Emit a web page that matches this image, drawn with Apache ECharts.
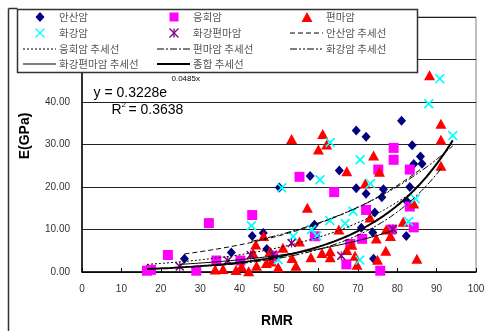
<!DOCTYPE html>
<html><head><meta charset="utf-8">
<script src="https://cdn.jsdelivr.net/npm/echarts@6/dist/echarts.min.js"></script>
<style>html,body{margin:0;padding:0;background:#fff}#c{width:489px;height:331px}</style>
</head><body><div id="c"></div>
<script>
// ---- data (RMR, E GPa) ----
const andesite = [[26.0,3.1],[37.9,4.6],[43.2,8.5],[46.0,9.2],[46.9,5.4],[50.1,19.9],[57.9,22.6],[59.0,11.1],[65.3,23.9],[69.6,19.7],[69.6,33.3],[70.9,10.4],[72.1,31.8],[72.1,18.4],[73.8,9.3],[74.0,3.1],[74.3,14.0],[76.1,17.6],[76.5,19.5],[81.1,35.6],[82.3,8.5],[82.5,16.6],[83.2,20.0],[83.8,29.8],[84.2,25.4],[85.9,27.2],[86.3,25.5]];
const tuff = [[16.5,0.3],[17.5,0.5],[21.8,4.0],[29.0,0.3],[32.2,11.5],[34.1,2.7],[40.2,2.7],[43.2,13.4],[48.5,3.7],[55.2,22.4],[59.1,8.4],[64.0,18.8],[67.1,1.8],[68.1,6.6],[71.1,7.8],[72.1,14.6],[75.2,24.1],[75.7,0.3],[78.6,10.0],[79.1,29.2],[79.1,26.4],[83.2,24.1],[83.2,15.4],[84.2,10.5]];
const gneiss = [[33.8,0.6],[35.8,0.7],[39.1,0.5],[40.5,1.3],[42.3,0.2],[43.4,4.5],[44.1,6.5],[44.3,1.5],[46.1,8.5],[46.8,2.1],[47.7,4.8],[48.1,2.5],[49.8,1.1],[51.0,5.7],[53.2,31.3],[53.3,3.3],[54.3,1.5],[55.2,7.2],[57.2,15.1],[58.1,3.5],[60.0,28.8],[60.9,4.5],[61.1,32.5],[62.1,30.0],[63.0,3.5],[63.0,4.9],[65.2,10.0],[67.2,23.7],[67.2,5.2],[68.5,6.4],[69.3,3.8],[69.8,1.7],[71.9,20.8],[73.1,12.8],[74.0,27.4],[74.7,7.9],[75.0,2.9],[75.5,23.6],[77.1,5.0],[77.2,10.0],[78.3,8.5],[81.5,11.8],[84.2,16.1],[85.0,3.1],[88.2,46.3],[91.1,34.9],[91.1,31.1],[91.1,25.0]];
const granite = [[43.0,10.9],[49.8,2.9],[50.7,19.8],[53.6,8.4],[58.3,10.0],[59.6,8.5],[60.4,21.7],[62.9,12.1],[63.0,30.5],[66.8,11.4],[68.8,14.3],[70.6,26.4],[70.5,2.8],[73.2,20.8],[82.9,11.9],[84.6,17.2],[88.0,39.6],[90.8,45.5],[94.1,32.1]];
const graniteGneiss = [[24.8,1.3],[37.0,2.7],[42.8,4.0],[48.4,4.1],[53.2,6.8],[65.8,3.8],[78.9,10.1]];

const seriesNames = ['안산암','응회암','편마암','화강암','화강편마암'];
const trendNames = ['안산암 추세선','응회암 추세선','편마암 추세선','화강암 추세선','화강편마암 추세선','종합 추세선'];
// exponential trend coefficients y = a*e^(b*x)
const trendA = [2.0, 1.0, 0.28, 2.19, 0.824, 0.3228];
const trendB = [0.029, 0.035, 0.049, 0.0277, 0.0313, 0.0485];
const xTicks = [0,10,20,30,40,50,60,70,80,90,100];
const yTicks = [0,10,20,30,40,50,60];
const eqText = ['y = 0.3228e','0.0485x','R','2',' = 0.3638'];

const groups = [andesite, tuff, gneiss, granite, graniteGneiss];
const allPts = groups.flat();
function range(d){let mn=Infinity,mx=-Infinity;d.forEach(p=>{mn=Math.min(mn,p[0]);mx=Math.max(mx,p[0]);});return [mn,mx];}
function trendPts(a,b,d){const [mn,mx]=range(d);const out=[];const n=80;for(let i=0;i<=n;i++){const x=mn+(mx-mn)*i/n;out.push([x,a*Math.exp(b*x)]);}return out;}

const X_PATH='path://M0,1.2 L1.2,0 L5,3.8 L8.8,0 L10,1.2 L6.2,5 L10,8.8 L8.8,10 L5,6.2 L1.2,10 L0,8.8 L3.8,5 Z';
const AST_PATH='path://M0,1.2 L1.2,0 L5,3.8 L8.8,0 L10,1.2 L6.2,5 L10,8.8 L8.8,10 L5,6.2 L1.2,10 L0,8.8 L3.8,5 Z M4.4,0 L5.6,0 L5.6,10 L4.4,10 Z';
const markerDefs = [
  {symbol:'diamond', size:[9,10], color:'#000080'},
  {symbol:'rect', size:10, color:'#FF00FF'},
  {symbol:'triangle', size:[11,10], color:'#FF0000'},
  {symbol:X_PATH, size:10, color:'#00FFFF'},
  {symbol:AST_PATH, size:9, color:'#800080'}
];
const lineDefs = [
  {type:[5,3], width:1},
  {type:[2,2], width:1},
  {type:[7,2,2,2], width:1},
  {type:[7,2,2,2,2,2], width:1},
  {type:'solid', width:1},
  {type:'solid', width:2}
];

const series = [];
groups.forEach((d,i)=>{
  series.push({name:seriesNames[i], type:'scatter', data:d, symbol:markerDefs[i].symbol, symbolSize:markerDefs[i].size,
    itemStyle:{color:markerDefs[i].color, opacity:1}, z:3});
});
trendNames.forEach((nm,i)=>{
  const d = i<5 ? groups[i] : allPts;
  series.push({name:nm, type:'line', data:trendPts(trendA[i],trendB[i],d), showSymbol:false, symbol:'none', smooth:false,
    lineStyle:{color:'#000', width:lineDefs[i].width, type:lineDefs[i].type}, z:4, silent:true});
});

// ---- legend drawn as graphic ----
const FONT = '10.5px "Noto Sans CJK KR", sans-serif';
const TC = '#555';
const g = [];
g.push({type:'rect', shape:{x:17.5,y:9.5,width:400,height:63}, style:{fill:'#fff', stroke:'#333', lineWidth:1.5}, z:100});
g.push({type:'line', shape:{x1:8.5,y1:8.5,x2:17.5,y2:8.5}, style:{stroke:'#333', lineWidth:1.5}, z:100});
g.push({type:'line', shape:{x1:8.5,y1:8.5,x2:8.5,y2:331}, style:{stroke:'#333', lineWidth:1.5}, z:100});
const colX = [40, 174, 307], txtX = [59, 193, 326], rowY = [17, 33, 49, 64];
const legendItems = [
  {k:'m',i:0,c:0,r:0},{k:'m',i:1,c:1,r:0},{k:'m',i:2,c:2,r:0},
  {k:'m',i:3,c:0,r:1},{k:'m',i:4,c:1,r:1},{k:'l',i:0,c:2,r:1},
  {k:'l',i:1,c:0,r:2},{k:'l',i:2,c:1,r:2},{k:'l',i:3,c:2,r:2},
  {k:'l',i:4,c:0,r:3},{k:'l',i:5,c:1,r:3}
];
legendItems.forEach(it=>{
  const cx = colX[it.c], cy = rowY[it.r];
  if(it.k==='m'){
    const col = markerDefs[it.i].color;
    if(it.i===0) g.push({type:'polygon', shape:{points:[[cx,cy-5],[cx+4.5,cy],[cx,cy+5],[cx-4.5,cy]]}, style:{fill:col}, z:101});
    if(it.i===1) g.push({type:'rect', shape:{x:cx-4.5,y:cy-4.5,width:9,height:9}, style:{fill:col}, z:101});
    if(it.i===2) g.push({type:'polygon', shape:{points:[[cx,cy-5],[cx+5.5,cy+5],[cx-5.5,cy+5]]}, style:{fill:col}, z:101});
    if(it.i===3||it.i===4){
      g.push({type:'line', shape:{x1:cx-4.5,y1:cy-4.5,x2:cx+4.5,y2:cy+4.5}, style:{stroke:col,lineWidth:1.3}, z:101});
      g.push({type:'line', shape:{x1:cx-4.5,y1:cy+4.5,x2:cx+4.5,y2:cy-4.5}, style:{stroke:col,lineWidth:1.3}, z:101});
      if(it.i===4) g.push({type:'line', shape:{x1:cx,y1:cy-4.5,x2:cx,y2:cy+4.5}, style:{stroke:col,lineWidth:1.3}, z:101});
    }
    g.push({type:'text', style:{text:seriesNames[it.i], x:txtX[it.c], y:cy, font:FONT, fill:TC, textVerticalAlign:'middle'}, z:101});
  } else {
    const ld = lineDefs[it.i];
    g.push({type:'line', shape:{x1:cx-17,y1:cy,x2:cx+16,y2:cy}, style:{stroke:'#000', lineWidth:ld.width, lineDash: ld.type==='solid'?null:ld.type}, z:101});
    g.push({type:'text', style:{text:trendNames[it.i], x:txtX[it.c], y:cy, font:FONT, fill:TC, textVerticalAlign:'middle'}, z:101});
  }
});
// equation
const EQF = '14px "Liberation Sans", Arial, sans-serif';
const SUPF = '8px "Liberation Sans", Arial, sans-serif';
g.push({type:'text', style:{text:eqText[0], x:93.5, y:93.6, font:EQF, fill:'#000', textVerticalAlign:'middle'}, z:50});
g.push({type:'text', style:{text:eqText[1], x:171.5, y:78.5, font:SUPF, fill:'#000', textVerticalAlign:'middle'}, z:50});
g.push({type:'text', style:{text:eqText[2], x:111.5, y:110.2, font:EQF, fill:'#000', textVerticalAlign:'middle'}, z:50});
g.push({type:'text', style:{text:eqText[3], x:121.5, y:104.5, font:SUPF, fill:'#000', textVerticalAlign:'middle'}, z:50});
g.push({type:'text', style:{text:eqText[4], x:124.5, y:110.2, font:EQF, fill:'#000', textVerticalAlign:'middle'}, z:50});
// axis titles
g.push({type:'text', rotation:Math.PI/2, x:25, y:136, style:{text:'E(GPa)', x:0, y:0, font:'bold 14px "Liberation Sans", Arial, sans-serif', fill:'#000', textAlign:'center', textVerticalAlign:'middle'}, z:50});
g.push({type:'text', style:{text:'RMR', x:277, y:321, font:'bold 14px "Liberation Sans", Arial, sans-serif', fill:'#000', textAlign:'center', textVerticalAlign:'middle'}, z:50});

const chart = echarts.init(document.getElementById('c'), null, {renderer:'canvas'});
chart.setOption({
  animation:false,
  backgroundColor:'#fff',
  grid:{left:82, right:13, top:17, bottom:59, show:true, borderColor:'#808080', borderWidth:1},
  xAxis:{type:'value', min:xTicks[0], max:xTicks[xTicks.length-1], interval:10,
    axisLine:{show:true, onZero:false, lineStyle:{color:'#000', width:1.5}},
    axisTick:{show:true, inside:true, length:4, lineStyle:{color:'#000'}},
    axisLabel:{fontSize:10, color:'#333', margin:12, fontFamily:'"Liberation Sans", Arial, sans-serif'},
    splitLine:{show:false}},
  yAxis:{type:'value', min:yTicks[0], max:yTicks[yTicks.length-1], interval:10,
    axisLine:{show:true, onZero:false, lineStyle:{color:'#000', width:1.5}},
    axisTick:{show:false},
    axisLabel:{fontSize:10, color:'#333', margin:12, fontFamily:'"Liberation Sans", Arial, sans-serif', formatter:v=>v.toFixed(2)},
    splitLine:{show:true, lineStyle:{color:'#222', width:1}}},
  series: series,
  graphic: g
});
</script></body></html>
